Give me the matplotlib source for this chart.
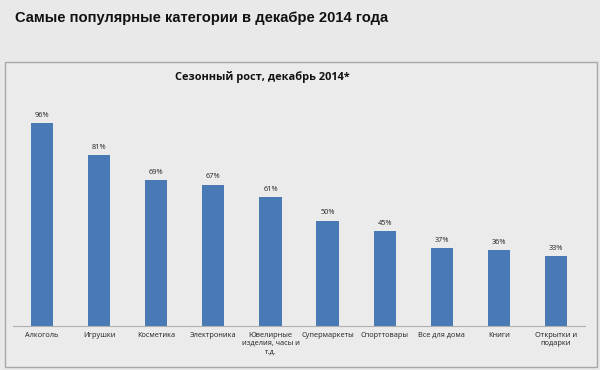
import matplotlib.pyplot as plt
from matplotlib.patches import Rectangle

# data
categories = ['Алкоголь', 'Игрушки', 'Косметика', 'Электроника',
              'Ювелирные\nизделия, часы и\nт.д.', 'Супермаркеты', 'Спорттовары',
              'Все для дома', 'Книги', 'Открытки и\nподарки']
growth = [96, 81, 69, 67, 61, 50, 45, 37, 36, 33]

bg = '#e9e9e9'
bar_color = '#4a7ab6'

fig = plt.figure(figsize=(6, 3.7), dpi=100, facecolor=bg)

# chart frame
fig.patches.append(Rectangle((5 / 600, 3 / 370), 592 / 600, 305 / 370,
                             transform=fig.transFigure, facecolor='#ebebeb',
                             edgecolor='#a8a8a8', linewidth=1.0, zorder=-5))

fig.text(15 / 600, 1 - 18 / 370, 'Самые популярные категории в декабре 2014 года',
         fontsize=10.6, fontweight='bold', family='Liberation Sans',
         ha='left', va='center', color='#111111')
fig.text(262 / 600, 1 - 77 / 370, 'Сезонный рост, декабрь 2014*',
         fontsize=7.9, fontweight='bold', family='Open Sans',
         ha='center', va='center', color='#111111')

ax = fig.add_axes([13.5 / 600, 44 / 370, 571 / 600, 211 / 370], zorder=2)
ax.set_facecolor('none')
x = range(len(categories))
bars = ax.bar(x, growth, width=0.39, color=bar_color)
for xi, v in zip(x, growth):
    ax.text(xi, v + 2, f'{v}%', ha='center', va='bottom', fontsize=5.3,
            family='Open Sans', color='#222222')

ax.set_xlim(-0.5, len(categories) - 0.5)
ax.set_ylim(0, 100)
ax.set_yticks([])
ax.set_xticks(list(x))
ax.set_xticklabels(categories, fontsize=5.3, family='Open Sans',
                   color='#222222', linespacing=1.3)
ax.tick_params(axis='x', length=0, pad=4)
for s in ['top', 'right', 'left']:
    ax.spines[s].set_visible(False)
ax.spines['bottom'].set_color('#b0b0b0')
ax.spines['bottom'].set_linewidth(0.8)

fig.savefig('out.png', dpi=100, facecolor=bg)
